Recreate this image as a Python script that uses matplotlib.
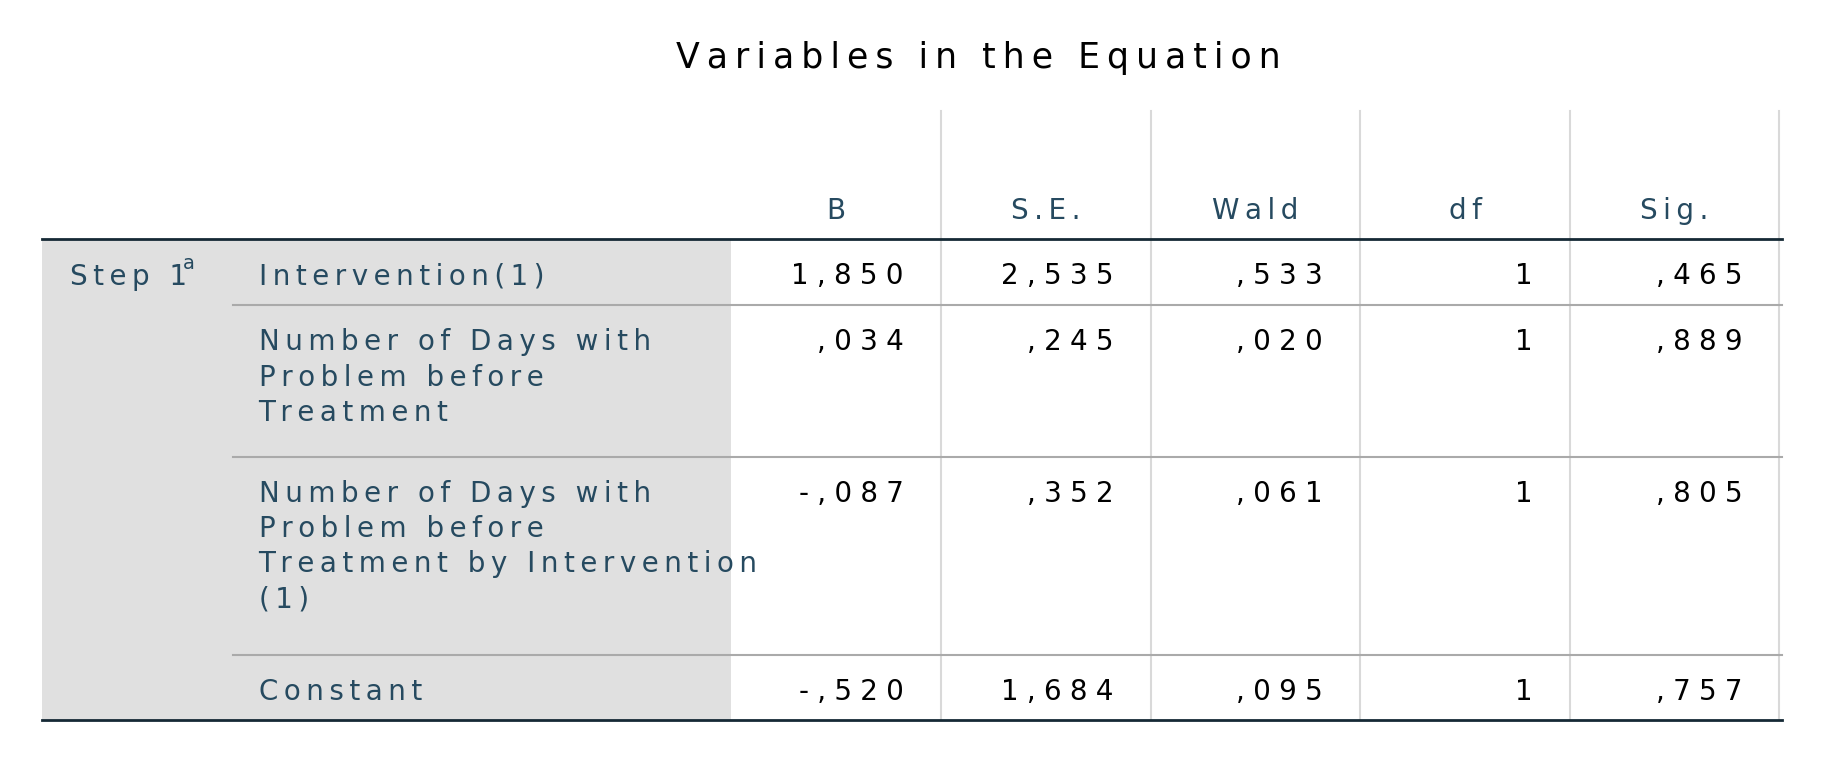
import matplotlib
matplotlib.use("Agg")
import matplotlib.pyplot as plt
from matplotlib.patches import Rectangle

title = "Variables in the Equation"
columns = ["B", "S.E.", "Wald", "df", "Sig."]
row_labels = ["Intervention(1)",
              "Number of Days with\nProblem before\nTreatment",
              "Number of Days with\nProblem before\nTreatment by Intervention\n(1)",
              "Constant"]
B = ["1,850", ",034", "-,087", "-,520"]
SE = ["2,535", ",245", ",352", "1,684"]
Wald = [",533", ",020", ",061", ",095"]
df = ["1", "1", "1", "1"]
Sig = [",465", ",889", ",805", ",757"]

def track(s, n=2):
    sp = "\u200a" * n
    return "\n".join(sp.join(list(line)) for line in s.split("\n"))

W, H = 1568, 656
fig = plt.figure(figsize=(18.26, 7.64), dpi=100)
ax = fig.add_axes([0, 0, 1, 1])
ax.set_xlim(0, W); ax.set_ylim(H, 0); ax.axis("off")
fig.patch.set_facecolor("white")

FONT = "DejaVu Sans"
FS = 20
tc = "#264a60"
ax.text(840, 50, track(title, 2), ha="center", va="center", fontsize=25, family=FONT, color="black")

col_edges = [628, 808, 988, 1168, 1348, 1528]
top, head_bot, bot = 95, 205, 618
row_bounds = [205, 262, 392, 562, 618]

ax.add_patch(Rectangle((36, head_bot), 628 - 36, bot - head_bot, color="#e0e0e0", lw=0, zorder=0))
for x in col_edges[1:]:
    ax.plot([x, x], [top, bot], color="#d9d9d9", lw=1.5, zorder=1)
for y in row_bounds[1:-1]:
    ax.plot([200, 1530], [y, y], color="#aaaaaa", lw=1.5, zorder=2)
ax.plot([36, 1530], [head_bot, head_bot], color="#152935", lw=2, zorder=3)
ax.plot([36, 1530], [bot, bot], color="#152935", lw=2, zorder=3)

for i, c in enumerate(columns):
    xc = (col_edges[i] + col_edges[i + 1]) / 2
    ax.text(xc, 181, track(c), ha="center", va="center", fontsize=FS, family=FONT, color=tc)

t = ax.text(60, 238, track("Step 1"), ha="left", va="center", fontsize=FS, family=FONT, color=tc)
ax.text(157, 226, "a", ha="left", va="center", fontsize=14, family=FONT, color=tc)

series = [B, SE, Wald, df, Sig]
for r, lab in enumerate(row_labels):
    y0 = row_bounds[r] + 33
    ax.text(222, y0 - 13, track(lab), ha="left", va="top", fontsize=FS, family=FONT, color=tc, linespacing=1.33)
    for i, s in enumerate(series):
        ax.text(col_edges[i + 1] - 32, y0 - 13, track(s[r], 3), ha="right", va="top", fontsize=FS, family=FONT, color="black")

fig.savefig("out.png", dpi=100, facecolor="white")
